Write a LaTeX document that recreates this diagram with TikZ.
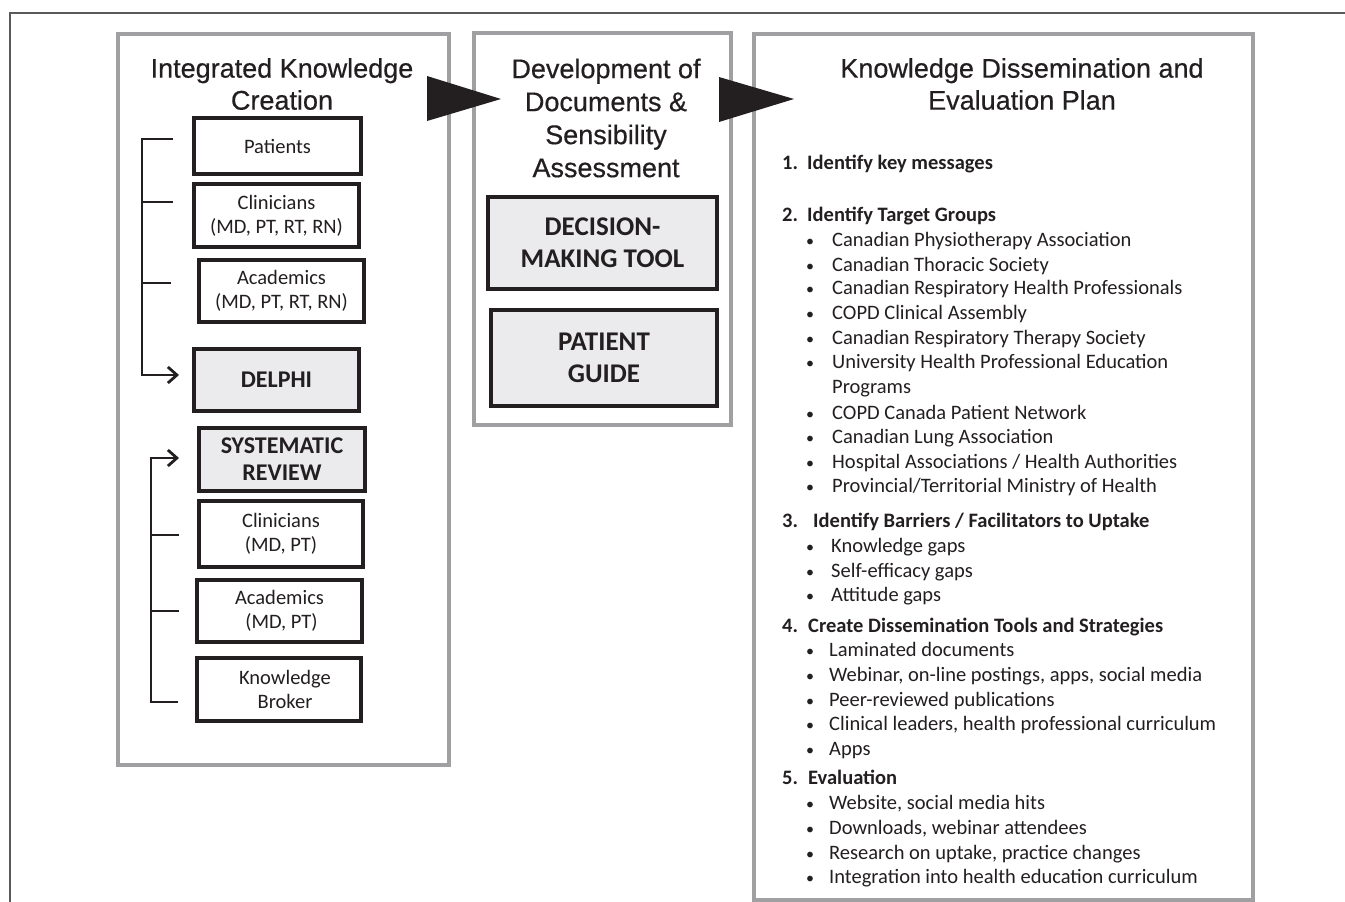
\documentclass[tikz,border=0pt]{standalone}
\usepackage{fontspec}
\setmainfont{Carlito}
\newfontfamily\titlefont[FakeBold=0.5]{Liberation Sans}
\usetikzlibrary{arrows.meta}
\definecolor{ink}{HTML}{231F20}
\definecolor{panelgray}{HTML}{A0A0A2}
\definecolor{boxfill}{HTML}{EBEBED}
\definecolor{framegray}{HTML}{5A5A5A}
\begin{document}
\begin{tikzpicture}[x=1pt,y=-1pt,
  panel/.style={draw=panelgray,line width=3.2pt,fill=white,inner sep=0pt},
  ibox/.style={draw=ink,line width=3.2pt,fill=white,inner sep=0pt,align=center,
    font=\fontsize{20.5}{24}\selectfont,text=ink},
  gbox/.style={ibox,fill=boxfill,font=\fontsize{24}{27}\selectfont\bfseries},
  bigbox/.style={ibox,fill=boxfill,font=\fontsize{27}{32}\selectfont\bfseries},
  ttl/.style={font=\titlefont\fontsize{27}{32}\selectfont,align=center,text=ink,inner sep=0pt},
  ttlb/.style={font=\titlefont\fontsize{27}{33}\selectfont,align=center,text=ink,inner sep=0pt},
  conn/.style={draw=ink,line width=2.8pt,line join=miter},
  arr/.style={conn,-{Straight Barb[length=9pt,width=16pt,line width=2.8pt]}},
  item/.style={anchor=base west,inner sep=0pt,font=\fontsize{20.5}{24}\selectfont,text=ink},
  head/.style={item,font=\fontsize{20.5}{24}\selectfont\bfseries},
  bul/.style={anchor=base,inner sep=0pt,font=\fontsize{16}{24}\selectfont,text=ink}]
\useasboundingbox (0,0) rectangle (1345,902);
% outer frame
\draw[framegray,line width=1.5pt] (10,902) -- (10,13) -- (1345,13);
% panels
\node[panel,minimum width=331pt,minimum height=731pt] (p1) at (283.5,399.5) {};
\node[panel,minimum width=257pt,minimum height=392pt] (p2) at (602.5,229) {};
\node[panel,minimum width=499pt,minimum height=866pt] (p3) at (1003.5,467) {};
% big arrows between panels
\fill[ink] (427,76) -- (501,99) -- (427,121) -- cycle;
\fill[ink] (719,77) -- (794,99) -- (719,122) -- cycle;
% titles
\node[ttl] (t1) at (282,84) {Integrated Knowledge\\Creation};
\node[ttlb] (t2) at (606,118) {Development of\\Documents \&\\Sensibility\\Assessment};
\node[ttl] (t3) at (1022,84) {Knowledge Dissemination and\\Evaluation Plan};
% left panel boxes
\node[ibox,minimum width=167pt,minimum height=56pt] (pat) at (277.5,146) {Patients};
\node[ibox,minimum width=165pt,minimum height=63pt] (cl1) at (276.5,215.5) {Clinicians\\(MD, PT, RT, RN)};
\node[ibox,minimum width=165pt,minimum height=62pt] (ac1) at (281.5,291) {Academics\\(MD, PT, RT, RN)};
\node[gbox,minimum width=165pt,minimum height=62pt] (del) at (276.5,380) {DELPHI};
\node[gbox,minimum width=166pt,minimum height=63pt] (sr) at (282,459.5) {SYSTEMATIC\\REVIEW};
\node[ibox,minimum width=164pt,minimum height=66pt] (cl2) at (281,534) {Clinicians\\(MD, PT)};
\node[ibox,minimum width=165pt,minimum height=62pt] (ac2) at (279.5,611) {Academics\\\hspace*{4pt}(MD, PT)};
\node[ibox,minimum width=164pt,minimum height=63pt] (kb) at (279,689.5) {\hspace*{12pt}Knowledge\\\hspace*{12pt}Broker};
% middle panel boxes
\node[bigbox,minimum width=229pt,minimum height=92pt] (dmt) at (602.5,243) {DECISION-\\MAKING TOOL};
\node[bigbox,minimum width=226pt,minimum height=96pt] (pg) at (604,358) {PATIENT\\GUIDE};
% connectors: first bracket
\coordinate (k1) at (173,139);
\coordinate (k2) at (173,202);
\coordinate (k3) at (171,283);
\coordinate (j1) at (142,139);
\coordinate (a1) at (179,375);
\draw[arr] (k1) -- (j1) |- (a1);
\draw[conn] (k2) -- (k2 -| j1);
\draw[conn] (k3) -- (k3 -| j1);
% connectors: second bracket
\coordinate (m1) at (179,535);
\coordinate (m2) at (179,611);
\coordinate (m3) at (178,702);
\coordinate (j2) at (151,702);
\coordinate (a2) at (179,458);
\draw[arr] (m3) -- (j2) |- (a2);
\draw[conn] (m1) -- (m1 -| j2);
\draw[conn] (m2) -- (m2 -| j2);
% right panel list
\node[head] (n1) at (782,169) {1.};
\node[head] (h1) at (807,169) {Identify key messages};
\node[head] (n2) at (782,221) {2.};
\node[head] (h2) at (807,221) {Identify Target Groups};
\foreach \y/\t in {240/{Canadian Physiotherapy Association},265/{Canadian Thoracic Society},
  288/{Canadian Respiratory Health Professionals},313/{COPD Clinical Assembly},
  338/{Canadian Respiratory Therapy Society},362/{University Health Professional Education},
  413/{COPD Canada Patient Network},437/{Canadian Lung Association},
  462/{Hospital Associations / Health Authorities},486/{Provincial/Territorial Ministry of Health}}{
  \node[bul] (ba\y) at (810,\y+6) {\textbullet};
  \node[item] (ia\y) at (832,\y+6) {\t};
}
\node[item] (ia387) at (832,393) {Programs};
\node[head] (n3) at (782,527) {3.};
\node[head] (h3) at (813,527) {Identify Barriers / Facilitators to Uptake};
\foreach \y/\t in {546/{Knowledge gaps},571/{Self-efficacy gaps},595/{Attitude gaps}}{
  \node[bul] (bb\y) at (810,\y+6) {\textbullet};
  \node[item] (ib\y) at (831,\y+6) {\t};
}
\node[head] (n4) at (782,632) {4.};
\node[head] (h4) at (808,632) {Create Dissemination Tools and Strategies};
\foreach \y/\t in {650/{Laminated documents},675/{Webinar, on-line postings, apps, social media},
  700/{Peer-reviewed publications},724/{Clinical leaders, health professional curriculum},749/{Apps}}{
  \node[bul] (bc\y) at (810,\y+6) {\textbullet};
  \node[item] (ic\y) at (829,\y+6) {\t};
}
\node[head] (n5) at (782,784) {5.};
\node[head] (h5) at (808,784) {Evaluation};
\foreach \y/\t in {803/{Website, social media hits},828/{Downloads, webinar attendees},
  853/{Research on uptake, practice changes},877/{Integration into health education curriculum}}{
  \node[bul] (bd\y) at (810,\y+6) {\textbullet};
  \node[item] (id\y) at (829,\y+6) {\t};
}
\end{tikzpicture}
\end{document}
